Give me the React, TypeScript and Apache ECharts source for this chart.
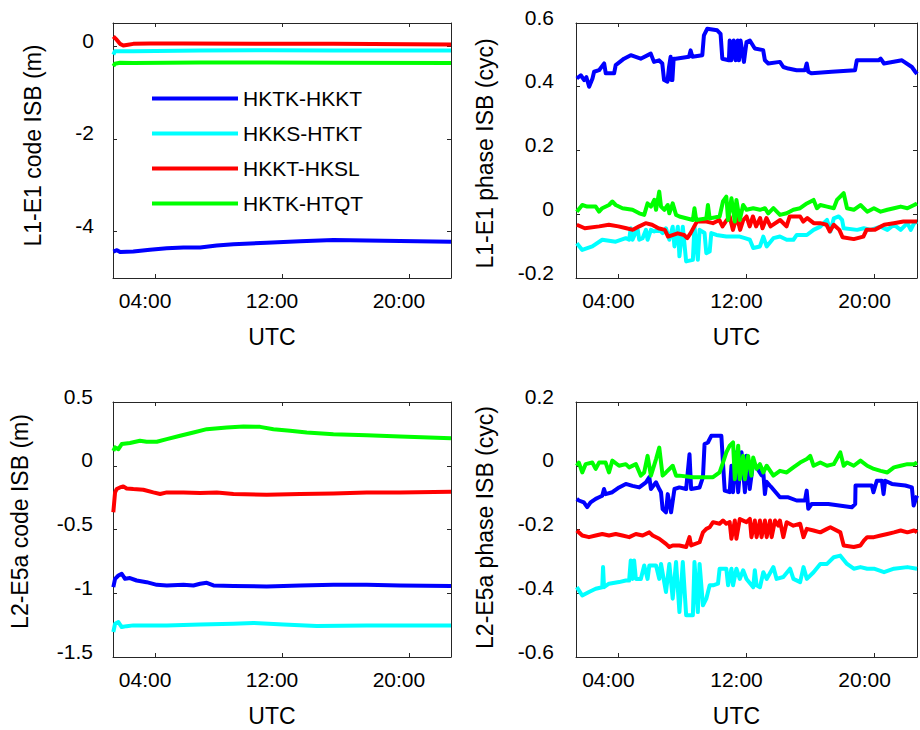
import React, { useEffect, useRef } from 'react';
import * as echarts from 'echarts';

type Pt = [number, number];

const NAMES = ['HKTK-HKKT', 'HKKS-HTKT', 'HKKT-HKSL', 'HKTK-HTQT'];
const COLORS = ['#0000ff', '#00ffff', '#ff0000', '#00ff00'];
const X_TICKS = [4, 12, 20];
const X_MIN = 1.35;
const X_MAX = 22.65;

// ---------- L1-E1 code ISB (m) ----------
const l1CodeBlue: Pt[] = [[1.37,-4.43],[1.6,-4.40],[1.8,-4.44],[2.63,-4.43],[3.68,-4.39],[4.74,-4.36],[5.79,-4.34],[6.84,-4.34],[7.89,-4.30],[8.94,-4.27],[11.04,-4.24],[13.14,-4.21],[15.24,-4.18],[17.34,-4.19],[19.44,-4.20],[22.65,-4.22]];
const l1CodeCyan: Pt[] = [[1.37,-0.18],[1.47,-0.11],[1.79,-0.107],[2.63,-0.107],[6.84,-0.093],[11.04,-0.086],[15.24,-0.093],[22.65,-0.093]];
const l1CodeRed: Pt[] = [[1.37,0.21],[1.58,0.14],[1.79,0.05],[2.0,0.014],[2.3,0.03],[2.63,0.05],[3.68,0.057],[5.79,0.057],[11.04,0.05],[15.24,0.05],[22.65,0.036]];
const l1CodeGreen: Pt[] = [[1.37,-0.43],[1.47,-0.38],[1.79,-0.357],[2.63,-0.364],[6.84,-0.35],[11.04,-0.35],[15.24,-0.357],[22.65,-0.364]];

// ---------- L1-E1 phase ISB (cyc) ----------
const l1PhaseBlue: Pt[] = [[1.40,0.426],[1.65,0.436],[1.86,0.421],[2.0,0.43],[2.17,0.40],[2.38,0.426],[2.48,0.447],[2.79,0.452],[3.11,0.473],[3.21,0.442],[3.73,0.442],[3.83,0.468],[4.35,0.488],[4.77,0.499],[5.39,0.488],[6.02,0.504],[6.22,0.478],[6.54,0.483],[6.74,0.473],[6.85,0.421],[7.06,0.416],[7.16,0.462],[7.26,0.494],[7.30,0.421],[7.37,0.421],[7.45,0.488],[7.58,0.488],[8.41,0.494],[8.51,0.514],[8.62,0.494],[9.24,0.499],[9.34,0.561],[9.55,0.582],[10.17,0.577],[10.38,0.566],[10.49,0.488],[10.90,0.483],[10.95,0.545],[11.05,0.483],[11.2,0.545],[11.32,0.483],[11.45,0.545],[11.53,0.483],[11.63,0.545],[11.84,0.478],[12.0,0.540],[12.21,0.545],[12.52,0.520],[13.04,0.515],[13.15,0.483],[13.36,0.473],[14.09,0.478],[14.3,0.462],[14.61,0.457],[15.13,0.452],[15.65,0.452],[15.76,0.473],[15.86,0.447],[16.07,0.442],[17.32,0.447],[18.78,0.452],[18.89,0.483],[20.25,0.483],[20.38,0.488],[20.59,0.473],[21.71,0.483],[22.33,0.462],[22.54,0.447],[22.65,0.44]];
const l1PhaseCyan: Pt[] = [[1.40,-0.091],[1.74,-0.112],[2.37,-0.101],[2.99,-0.080],[3.83,-0.086],[4.46,-0.075],[4.67,-0.080],[4.77,-0.044],[4.88,-0.080],[5.19,-0.044],[5.30,-0.080],[5.51,-0.075],[5.72,-0.049],[5.82,-0.080],[6.03,-0.049],[6.24,-0.054],[6.55,-0.049],[6.76,-0.059],[6.97,-0.044],[7.18,-0.080],[7.39,-0.039],[7.50,-0.101],[7.71,-0.039],[7.81,-0.132],[8.02,-0.039],[8.23,-0.148],[8.65,-0.143],[8.75,-0.039],[8.96,-0.143],[9.07,-0.049],[9.38,-0.059],[9.49,-0.122],[9.70,-0.117],[9.80,-0.059],[10.12,-0.065],[10.74,-0.070],[11.58,-0.070],[11.90,-0.075],[12.21,-0.080],[12.42,-0.106],[12.84,-0.101],[13.05,-0.070],[13.26,-0.101],[13.68,-0.075],[14.09,-0.070],[14.51,-0.080],[14.93,-0.080],[15.14,-0.065],[15.77,-0.065],[16.19,-0.049],[16.61,-0.039],[16.82,-0.028],[17.03,-0.018],[17.24,-0.054],[17.45,-0.013],[17.76,-0.007],[17.97,-0.018],[18.07,-0.044],[18.91,-0.049],[19.33,-0.044],[19.75,-0.049],[20.38,-0.039],[20.80,-0.049],[21.21,-0.033],[21.63,-0.049],[22.05,-0.028],[22.26,-0.049],[22.47,-0.028],[22.65,-0.023]];
const l1PhaseRed: Pt[] = [[1.40,-0.033],[1.9,-0.044],[2.8,-0.038],[3.4,-0.033],[4.0,-0.038],[4.5,-0.044],[4.9,-0.049],[5.3,-0.038],[5.7,-0.028],[6.1,-0.033],[6.5,-0.044],[6.9,-0.049],[7.1,-0.070],[7.7,-0.060],[8.1,-0.065],[8.3,-0.075],[8.5,-0.060],[8.9,-0.023],[9.5,-0.023],[9.9,-0.028],[10.3,-0.018],[10.5,-0.038],[10.7,-0.023],[10.95,-0.007],[11.15,-0.049],[11.4,-0.007],[11.6,-0.049],[11.8,-0.018],[12.0,-0.007],[12.2,-0.038],[12.4,-0.007],[12.6,-0.038],[12.85,-0.012],[13.0,-0.044],[13.25,-0.012],[13.5,-0.038],[14.1,-0.018],[14.5,-0.038],[14.7,-0.007],[15.35,-0.007],[15.55,-0.023],[15.8,-0.012],[16.2,-0.028],[16.6,-0.028],[17.0,-0.033],[17.2,-0.054],[17.45,-0.033],[17.8,-0.049],[18.0,-0.072],[18.7,-0.078],[19.3,-0.070],[19.5,-0.049],[20.0,-0.049],[20.6,-0.033],[21.2,-0.028],[21.8,-0.023],[22.65,-0.023]];
const l1PhaseGreen: Pt[] = [[1.40,0.008],[1.74,0.029],[2.05,0.024],[2.58,0.024],[2.79,0.008],[2.99,0.019],[3.41,0.029],[3.62,0.040],[3.83,0.029],[4.25,0.019],[4.88,0.014],[5.30,0.003],[5.61,-0.002],[5.82,0.034],[6.03,0.024],[6.24,0.045],[6.35,0.014],[6.55,0.071],[6.66,0.024],[6.87,0.014],[7.08,0.029],[7.18,0.003],[7.39,0.034],[7.60,-0.002],[7.81,-0.007],[8.65,-0.018],[8.75,0.019],[8.86,-0.018],[9.49,-0.013],[9.59,0.029],[9.70,-0.013],[10.32,-0.007],[10.53,0.040],[10.74,0.055],[10.85,-0.018],[11.06,0.050],[11.27,-0.023],[11.37,0.045],[11.58,-0.018],[11.79,0.029],[12.0,0.014],[12.42,0.019],[12.84,0.014],[13.15,0.019],[13.36,0.003],[13.68,0.019],[14.09,-0.002],[14.51,0.003],[14.93,0.014],[15.35,0.019],[15.77,0.034],[16.19,0.045],[16.40,0.019],[16.61,0.029],[17.03,0.024],[17.45,0.019],[17.65,0.045],[18.07,0.066],[18.28,0.019],[18.70,0.014],[19.12,0.029],[19.54,0.008],[19.96,0.019],[20.38,0.008],[20.80,0.014],[21.21,0.019],[21.63,0.024],[22.05,0.019],[22.47,0.029],[22.65,0.034]];

// ---------- L2-E5a code ISB (m) ----------
const l2CodeBlue: Pt[] = [[1.37,-0.952],[1.48,-0.887],[1.69,-0.861],[1.90,-0.847],[2.11,-0.887],[2.42,-0.881],[2.84,-0.900],[3.47,-0.913],[4.11,-0.934],[4.74,-0.939],[5.79,-0.934],[6.42,-0.939],[6.84,-0.926],[7.26,-0.918],[7.68,-0.939],[8.94,-0.944],[11.04,-0.947],[13.14,-0.939],[15.24,-0.934],[17.34,-0.934],[19.44,-0.939],[22.65,-0.944]];
const l2CodeCyan: Pt[] = [[1.37,-1.304],[1.48,-1.239],[1.69,-1.226],[1.90,-1.265],[2.21,-1.258],[2.63,-1.252],[4.74,-1.252],[6.84,-1.246],[8.94,-1.239],[10.2,-1.233],[12.09,-1.246],[14.19,-1.257],[17.34,-1.252],[22.65,-1.252]];
const l2CodeRed: Pt[] = [[1.37,-0.365],[1.48,-0.209],[1.58,-0.183],[1.79,-0.170],[2.0,-0.162],[2.21,-0.178],[2.63,-0.183],[3.26,-0.188],[3.89,-0.209],[4.32,-0.222],[4.74,-0.209],[5.79,-0.209],[6.84,-0.214],[7.89,-0.209],[8.94,-0.222],[11.04,-0.227],[13.14,-0.222],[15.24,-0.217],[17.34,-0.209],[19.44,-0.209],[22.65,-0.203]];
const l2CodeGreen: Pt[] = [[1.37,0.117],[1.48,0.144],[1.69,0.13],[1.90,0.17],[2.42,0.178],[3.05,0.196],[3.47,0.188],[4.11,0.188],[4.74,0.209],[5.58,0.235],[6.42,0.261],[7.26,0.287],[8.52,0.30],[9.57,0.308],[10.62,0.305],[11.46,0.287],[12.51,0.274],[13.56,0.261],[15.24,0.248],[17.34,0.240],[19.44,0.229],[22.65,0.216]];

// ---------- L2-E5a phase ISB (cyc) ----------
const l2PhaseBlue: Pt[] = [[1.40,-0.104],[1.53,-0.109],[1.84,-0.115],[2.05,-0.130],[2.26,-0.115],[2.58,-0.104],[2.79,-0.099],[2.99,-0.094],[3.10,-0.073],[3.20,-0.089],[3.62,-0.083],[4.04,-0.068],[4.46,-0.057],[4.88,-0.063],[5.30,-0.068],[5.72,-0.052],[5.93,-0.036],[6.03,-0.073],[6.35,-0.052],[6.55,-0.073],[6.66,-0.083],[6.76,-0.136],[6.97,-0.146],[7.08,-0.089],[7.29,-0.146],[7.50,-0.073],[7.81,-0.068],[8.23,-0.073],[8.44,0.036],[8.54,-0.073],[9.07,-0.068],[9.28,-0.036],[9.38,0.068],[9.59,0.073],[9.80,0.094],[10.43,0.094],[10.53,0.010],[10.64,-0.078],[10.95,-0.083],[11.06,0.0],[11.16,-0.083],[11.37,0.042],[11.48,-0.083],[11.69,0.042],[11.90,-0.083],[12.0,0.031],[12.2,-0.073],[12.42,0.010],[12.63,-0.005],[12.94,-0.030],[13.05,-0.021],[13.15,-0.089],[13.25,-0.050],[13.47,-0.063],[13.57,-0.068],[14.09,-0.099],[14.61,-0.099],[15.13,-0.109],[15.65,-0.109],[15.76,-0.078],[15.86,-0.135],[16.07,-0.120],[17.11,-0.120],[18.58,-0.130],[18.79,-0.120],[18.81,-0.062],[19.83,-0.062],[19.93,-0.083],[20.14,-0.047],[20.46,-0.047],[20.56,-0.089],[20.66,-0.047],[21.08,-0.057],[21.92,-0.062],[22.33,-0.068],[22.44,-0.125],[22.65,-0.094]];
const l2PhaseCyan: Pt[] = [[1.40,-0.381],[1.74,-0.407],[2.16,-0.396],[2.58,-0.386],[2.99,-0.381],[3.04,-0.318],[3.10,-0.381],[3.41,-0.370],[4.04,-0.365],[4.46,-0.360],[4.67,-0.360],[4.77,-0.297],[4.88,-0.355],[4.98,-0.297],[5.09,-0.355],[5.40,-0.355],[5.61,-0.313],[5.82,-0.355],[5.93,-0.313],[6.35,-0.313],[6.55,-0.355],[6.66,-0.308],[6.97,-0.396],[7.18,-0.308],[7.39,-0.417],[7.60,-0.302],[7.81,-0.459],[8.02,-0.302],[8.23,-0.469],[8.65,-0.469],[8.75,-0.302],[8.96,-0.459],[9.07,-0.308],[9.28,-0.438],[9.49,-0.417],[9.70,-0.375],[9.91,-0.375],[10.22,-0.370],[10.32,-0.323],[10.74,-0.323],[10.85,-0.375],[11.06,-0.323],[11.16,-0.375],[11.37,-0.323],[11.58,-0.355],[11.79,-0.328],[12.0,-0.355],[12.42,-0.381],[12.52,-0.328],[12.63,-0.375],[12.84,-0.381],[13.05,-0.334],[13.26,-0.355],[13.68,-0.318],[13.88,-0.355],[14.30,-0.349],[14.72,-0.323],[14.93,-0.355],[15.35,-0.365],[15.56,-0.318],[15.77,-0.355],[16.19,-0.334],[16.61,-0.308],[17.03,-0.308],[17.45,-0.287],[17.86,-0.282],[18.28,-0.308],[18.70,-0.323],[19.12,-0.318],[19.54,-0.323],[19.96,-0.323],[20.59,-0.334],[21.21,-0.323],[22.05,-0.318],[22.65,-0.323]];
const l2PhaseRed: Pt[] = [[1.40,-0.203],[1.74,-0.219],[2.16,-0.224],[2.58,-0.219],[2.99,-0.214],[3.41,-0.219],[3.83,-0.214],[4.25,-0.219],[4.67,-0.224],[5.09,-0.214],[5.51,-0.219],[5.93,-0.209],[6.14,-0.219],[6.55,-0.229],[6.97,-0.245],[7.18,-0.255],[7.39,-0.250],[7.81,-0.250],[8.23,-0.255],[8.44,-0.224],[8.54,-0.250],[9.07,-0.240],[9.28,-0.209],[9.49,-0.198],[9.70,-0.193],[9.91,-0.177],[10.32,-0.182],[10.53,-0.172],[10.74,-0.182],[10.95,-0.177],[11.06,-0.229],[11.27,-0.172],[11.37,-0.229],[11.58,-0.167],[11.79,-0.172],[12.0,-0.177],[12.21,-0.167],[12.31,-0.224],[12.52,-0.172],[12.63,-0.224],[12.84,-0.172],[12.94,-0.224],[13.15,-0.172],[13.26,-0.224],[13.47,-0.172],[13.57,-0.224],[13.78,-0.172],[13.99,-0.188],[14.09,-0.172],[14.30,-0.224],[14.51,-0.177],[14.93,-0.188],[15.35,-0.182],[15.56,-0.224],[15.77,-0.198],[16.19,-0.203],[16.61,-0.209],[17.03,-0.198],[17.24,-0.193],[17.86,-0.209],[18.07,-0.250],[18.70,-0.255],[19.12,-0.250],[19.33,-0.235],[19.54,-0.224],[19.96,-0.224],[20.38,-0.219],[20.80,-0.214],[21.21,-0.209],[21.63,-0.203],[22.05,-0.209],[22.47,-0.203],[22.65,-0.209]];
const l2PhaseGreen: Pt[] = [[1.40,0.0],[1.53,0.010],[1.74,-0.021],[1.95,0.005],[2.37,0.010],[2.58,-0.010],[2.79,0.010],[3.20,0.010],[3.41,-0.021],[3.62,0.016],[4.04,0.0],[4.46,0.005],[4.67,-0.005],[5.09,0.005],[5.40,-0.031],[5.61,-0.021],[5.82,0.031],[6.03,-0.031],[6.35,0.021],[6.55,0.057],[6.76,-0.031],[6.97,-0.021],[7.39,0.0],[7.60,-0.031],[7.81,-0.031],[8.65,-0.036],[9.07,-0.036],[9.91,-0.036],[10.32,-0.021],[10.53,0.010],[10.74,0.042],[10.95,0.063],[11.16,0.073],[11.27,-0.042],[11.48,0.063],[11.58,-0.042],[11.79,0.031],[11.90,-0.042],[12.10,0.031],[12.31,-0.031],[12.42,0.026],[12.63,-0.010],[12.84,0.005],[13.05,-0.021],[13.26,0.0],[13.68,-0.031],[14.09,-0.016],[14.51,-0.021],[14.93,-0.005],[15.35,0.010],[15.77,0.021],[15.98,0.031],[16.19,0.0],[16.61,0.010],[17.03,0.0],[17.45,0.005],[17.86,0.042],[18.07,0.0],[18.28,0.010],[18.70,0.0],[19.12,0.016],[19.54,0.0],[19.96,-0.010],[20.38,-0.016],[20.80,-0.021],[21.21,-0.005],[21.63,0.0],[22.05,0.005],[22.47,0.005],[22.65,0.010]];

// y-axis settings per panel
const Y_NAMES = ['L1-E1 code ISB (m)', 'L1-E1 phase ISB (cyc)', 'L2-E5a code ISB (m)', 'L2-E5a phase ISB (cyc)'];
const Y_RANGES: Pt[] = [[-5, 0.5], [-0.2, 0.6], [-1.5, 0.5], [-0.6, 0.2]];
const Y_TICKS = [[-4, -2, 0], [-0.2, 0, 0.2, 0.4, 0.6], [-1.5, -1, -0.5, 0, 0.5], [-0.6, -0.4, -0.2, 0, 0.2]];
const PANEL_DATA: Pt[][][] = [
  [l1CodeBlue, l1CodeCyan, l1CodeRed, l1CodeGreen],
  [l1PhaseBlue, l1PhaseCyan, l1PhaseRed, l1PhaseGreen],
  [l2CodeBlue, l2CodeCyan, l2CodeRed, l2CodeGreen],
  [l2PhaseBlue, l2PhaseCyan, l2PhaseRed, l2PhaseGreen],
];

const FONT = 'Liberation Sans, Arial, Helvetica, sans-serif';
const AXIS_COLOR = '#262626';

const GRID_LAYOUT = [
  { left: 113, top: 23, width: 338, height: 255, labelMargin: 19, nameGap: 69, namePad: [0, 0, 0, 10] },
  { left: 576, top: 23, width: 341, height: 255, labelMargin: 22, nameGap: 80, namePad: [0, 6, 0, 0] },
  { left: 113, top: 402, width: 338, height: 255, labelMargin: 20, nameGap: 82, namePad: [0, 0, 0, 16] },
  { left: 576, top: 402, width: 341, height: 255, labelMargin: 22, nameGap: 80, namePad: [0, 0, 0, 4] },
];

const LEGEND_TEXT = { fontSize: 21, fontFamily: FONT, color: '#000' };

function buildOption() {
  const grid: any[] = [];
  const xAxis: any[] = [];
  const yAxis: any[] = [];
  const series: any[] = [];
  const axisLine = { show: true, onZero: false, lineStyle: { color: AXIS_COLOR, width: 1 } };
  const tickStyle = { color: AXIS_COLOR, width: 1 };
  GRID_LAYOUT.forEach((g, p) => {
    grid.push({ left: g.left, top: g.top, width: g.width, height: g.height, containLabel: false });
    const [ymin, ymax] = Y_RANGES[p];
    xAxis.push({
      type: 'value', gridIndex: p, min: X_MIN, max: X_MAX, position: 'bottom',
      name: 'UTC', nameLocation: 'middle', nameGap: 47,
      nameTextStyle: { fontSize: 23, fontFamily: FONT, color: '#000', padding: [0, 20, 0, 0] },
      axisLine,
      axisTick: { show: true, inside: true, length: 4, lineStyle: tickStyle, customValues: X_TICKS },
      axisLabel: {
        show: true, customValues: X_TICKS, margin: 12, fontSize: 21, fontFamily: FONT, color: '#000',
        padding: [0, 20, 0, 0],
        formatter: (v: number) => String(Math.round(v)).padStart(2, '0') + ':00',
      },
      splitLine: { show: false },
    });
    xAxis.push({
      type: 'value', gridIndex: p, min: X_MIN, max: X_MAX, position: 'top',
      axisLine,
      axisTick: { show: true, inside: true, length: 4, lineStyle: tickStyle, customValues: X_TICKS },
      axisLabel: { show: false },
      splitLine: { show: false },
    });
    yAxis.push({
      type: 'value', gridIndex: p, min: ymin, max: ymax, position: 'left',
      name: Y_NAMES[p], nameLocation: 'middle', nameGap: g.nameGap, nameRotate: 90,
      nameTextStyle: { fontSize: 23, fontFamily: FONT, color: '#000', padding: g.namePad },
      axisLine,
      axisTick: { show: true, inside: true, length: 4, lineStyle: tickStyle, customValues: Y_TICKS[p] },
      axisLabel: {
        show: true, customValues: Y_TICKS[p], margin: g.labelMargin, fontSize: 21, fontFamily: FONT, color: '#000',
        verticalAlign: 'bottom', lineHeight: 12,
        formatter: (v: number) => String(Math.round(v * 100) / 100),
      },
      splitLine: { show: false },
    });
    yAxis.push({
      type: 'value', gridIndex: p, min: ymin, max: ymax, position: 'right',
      axisLine,
      axisTick: { show: true, inside: true, length: 4, lineStyle: tickStyle, customValues: Y_TICKS[p] },
      axisLabel: { show: false },
      splitLine: { show: false },
    });
    PANEL_DATA[p].forEach((d, i) => {
      series.push({
        type: 'line', name: NAMES[i], xAxisIndex: 2 * p, yAxisIndex: 2 * p,
        data: d, symbol: 'none', showSymbol: false, silent: true,
        lineStyle: { width: 4, color: COLORS[i], join: 'round' },
        itemStyle: { color: COLORS[i] },
        clip: true,
      });
    });
  });
  return {
    animation: false,
    backgroundColor: '#ffffff',
    grid, xAxis, yAxis, series,
    legend: {
      orient: 'vertical', left: 147, top: 83, padding: 5, itemWidth: 86, itemHeight: 4, itemGap: 14,
      icon: 'rect', selectedMode: false,
      data: NAMES.map((n) => ({ name: n, textStyle: LEGEND_TEXT })),
      textStyle: LEGEND_TEXT,
    },
  };
}

export default function App() {
  const ref = useRef<HTMLDivElement>(null);
  useEffect(() => {
    if (!ref.current) return;
    const chart = echarts.init(ref.current, undefined, { renderer: 'svg' });
    chart.setOption(buildOption() as any);
    return () => chart.dispose();
  }, []);
  return (
    <div
      ref={ref}
      style={{ position: 'absolute', left: 0, top: 0, width: 920, height: 730, background: '#fff' }}
    />
  );
}
